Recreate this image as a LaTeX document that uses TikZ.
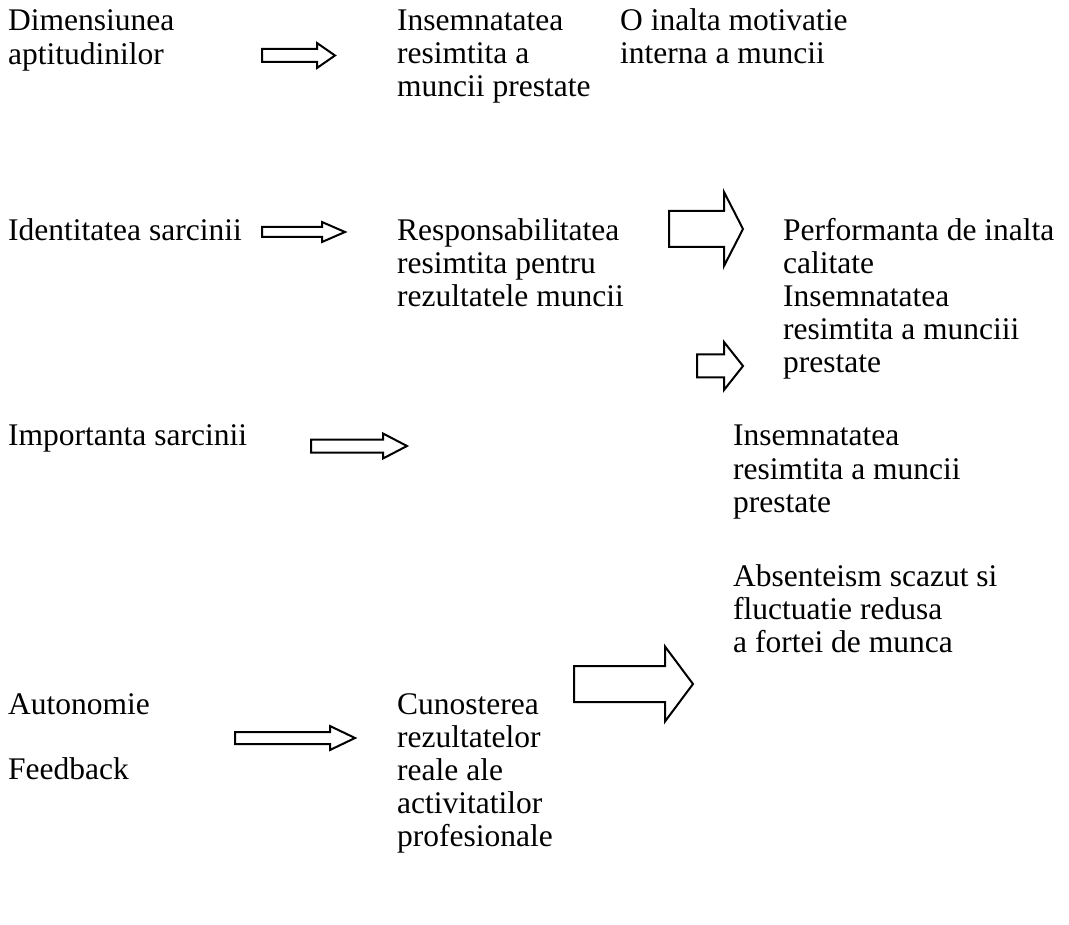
\documentclass[tikz,border=0pt]{standalone}
\usepackage{fontspec}
\setmainfont{Liberation Serif}
\begin{document}
\begin{tikzpicture}[x=1pt,y=-1pt,
  txt/.style={anchor=base west,inner sep=0pt,font=\fontsize{31.5}{33}\selectfont},
  blk/.style={draw=black,line width=2pt,fill=white,line join=miter}]
\useasboundingbox (0,0) rectangle (1069,925);
\newcommand{\blockarrow}[6]{% x0, xh, xt, yc, shaft half, head half
  \draw[blk] (#1,#4-#5) -- (#2,#4-#5) -- (#2,#4-#6) -- (#3,#4) -- (#2,#4+#6) -- (#2,#4+#5) -- (#1,#4+#5) -- cycle;}
% column 1
\node[txt] (c1a) at (8,31) {Dimensiunea};
\node[txt] (c1b) at (8,65) {aptitudinilor};
\node[txt] (c1c) at (8,241) {Identitatea sarcinii};
\node[txt] (c1d) at (8,446) {Importanta sarcinii};
\node[txt] (c1e) at (8,714) {Autonomie};
\node[txt] (c1f) at (8,779) {Feedback};
% column 2
\node[txt] (c2a) at (397,31) {Insemnatatea};
\node[txt] (c2b) at (397,64) {resimtita a};
\node[txt] (c2c) at (397,97) {muncii prestate};
\node[txt] (c2d) at (397,241) {Responsabilitatea};
\node[txt] (c2e) at (397,274) {resimtita pentru};
\node[txt] (c2f) at (397,307) {rezultatele muncii};
\node[txt] (c2g) at (397,714) {Cunosterea};
\node[txt] (c2h) at (397,747) {rezultatelor};
\node[txt] (c2i) at (397,780) {reale ale};
\node[txt] (c2j) at (397,813) {activitatilor};
\node[txt] (c2k) at (397,846) {profesionale};
% column 3
\node[txt] (c3a) at (620,31) {O inalta motivatie};
\node[txt] (c3b) at (620,64) {interna a muncii};
% column 4
\node[txt] (c4a) at (783,241) {Performanta de inalta};
\node[txt] (c4b) at (783,274) {calitate};
\node[txt] (c4c) at (783,307) {Insemnatatea};
\node[txt] (c4d) at (783,340) {resimtita a munciii};
\node[txt] (c4e) at (783,373) {prestate};
% column 5
\node[txt] (c5a) at (733,446) {Insemnatatea};
\node[txt] (c5b) at (733,479) {resimtita a muncii};
\node[txt] (c5c) at (733,512) {prestate};
% column 6
\node[txt] (c6a) at (733,586) {Absenteism scazut si};
\node[txt] (c6b) at (733,619) {fluctuatie redusa};
\node[txt] (c6c) at (733,652) {a fortei de munca};
% block arrows
\blockarrow{262}{317}{335}{55.5}{6.5}{12.5}
\blockarrow{262}{322}{345}{232}{5}{10}
\blockarrow{669}{724}{743}{229}{18}{37}
\blockarrow{697}{724}{743}{366}{11.5}{24}
\blockarrow{311}{383}{407}{446}{6.5}{12.5}
\blockarrow{574}{665}{693}{684}{18}{37.5}
\blockarrow{235}{330}{355}{738}{6}{12}
\end{tikzpicture}
\end{document}
